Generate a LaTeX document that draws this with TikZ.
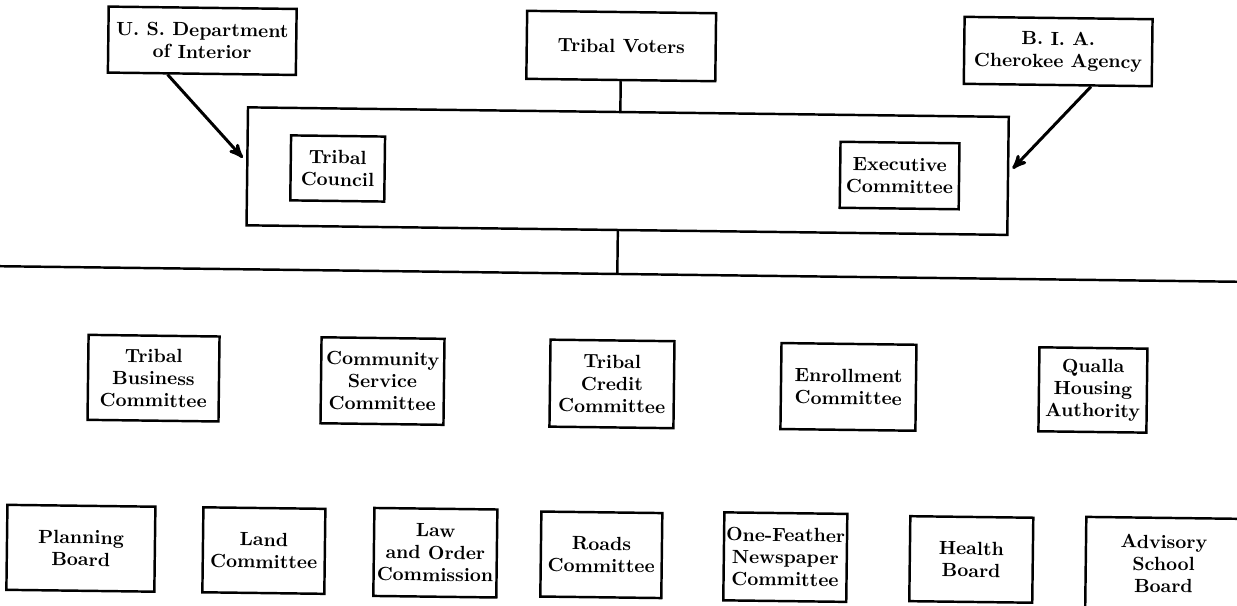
\documentclass[tikz,border=0pt]{standalone}
\usepackage{tikz}
\usetikzlibrary{arrows,calc}

\begin{document}
\begin{tikzpicture}[x=0.02cm,y=-0.02cm,>=stealth',line width=1.4pt]
	\tikzstyle{unit}=[draw, line width=1.4pt, align=center, inner sep=0pt, font=\fontsize{10.9}{12.6}\selectfont\bfseries]
	\useasboundingbox (0,0) rectangle (1237,605);
	\begin{scope}[rotate around={-0.72:(618,302)}, transform shape]
		% top row
		\node[unit, minimum width=3.76cm, minimum height=1.32cm] (usdi)   at (199,46)  {U. S. Department\\of Interior};
		\node[unit, minimum width=3.78cm, minimum height=1.36cm] (voters) at (618,46)  {Tribal Voters};
		\node[unit, minimum width=3.76cm, minimum height=1.34cm] (bia)    at (1055,46) {B. I. A.\\Cherokee Agency};
		% council block
		\node[unit, minimum width=15.22cm, minimum height=2.36cm] (council) at (626,171) {};
		\node[unit, minimum width=1.88cm, minimum height=1.3cm]  (tc)   at (336,172) {Tribal\\Council};
		\node[unit, minimum width=2.38cm, minimum height=1.32cm] (exec) at (898,172) {Executive\\Committee};
		% committees
		\node[unit, minimum width=2.62cm, minimum height=1.7cm]  (tbc) at (154.5,384) {Tribal\\Business\\Committee};
		\node[unit, minimum width=2.46cm, minimum height=1.72cm] (csc) at (383.5,384) {Community\\Service\\Committee};
		\node[unit, minimum width=2.48cm, minimum height=1.74cm] (tcc) at (613,384)   {Tribal\\Credit\\Committee};
		\node[unit, minimum width=2.7cm,  minimum height=1.72cm] (enr) at (849.5,384) {Enrollment\\Committee};
		\node[unit, minimum width=2.16cm, minimum height=1.68cm] (qha) at (1094,384)  {Qualla\\Housing\\Authority};
		% boards
		\node[unit, minimum width=2.96cm, minimum height=1.7cm]  (plan)   at (84,555)    {Planning\\Board};
		\node[unit, minimum width=2.44cm, minimum height=1.7cm]  (land)   at (267,555)   {Land\\Committee};
		\node[unit, minimum width=2.46cm, minimum height=1.76cm] (law)    at (438.5,555) {Law\\and Order\\Commission};
		\node[unit, minimum width=2.42cm, minimum height=1.7cm]  (roads)  at (604.5,555) {Roads\\Committee};
		\node[unit, minimum width=2.46cm, minimum height=1.76cm] (paper)  at (788.5,555) {One-Feather\\Newspaper\\Committee};
		\node[unit, minimum width=2.46cm, minimum height=1.7cm]  (health) at (974.5,555) {Health\\Board};
		\node[unit, minimum width=3.12cm, minimum height=1.84cm] (adv)    at (1167,557)  {Advisory\\School\\Board};
		% rule
		\coordinate (busL) at (-20,274);
		\coordinate (busR) at (1260,274);
		\coordinate (drop) at (617,274);
		\draw (busL) -- (busR);
		\path
			(voters.south) edge (voters.south |- council.north)
			(council.south -| drop) edge (drop);
		\path[->, line width=1.7pt, shorten >=0.1cm]
			($(usdi.south west)!0.32!(usdi.south east)$) edge ($(council.north west)!0.46!(council.south west)$)
			($(bia.south west)!0.675!(bia.south east)$) edge ($(council.north east)!0.47!(council.south east)$);
	\end{scope}
\end{tikzpicture}
\end{document}
